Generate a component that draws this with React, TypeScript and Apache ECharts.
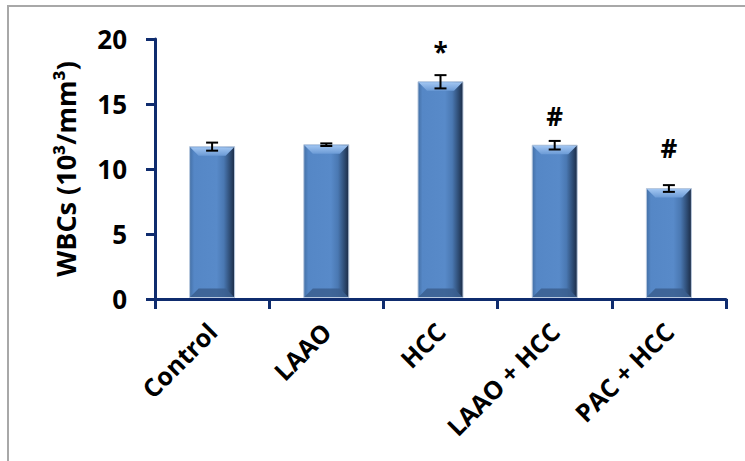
import React, { useEffect, useRef } from "react";
import * as echarts from "echarts";

const categories = ["Control", "LAAO", "HCC", "LAAO + HCC", "PAC + HCC"];
const means = [11.72, 11.87, 16.71, 11.83, 8.5];
const errors = [0.31, 0.1, 0.51, 0.33, 0.26];
const marks = ["", "", "*", "#", "#"];
const markY = [null, null, 19.0, 14.1, 11.64];
const yMin = 0;
const yMax = 20;
const yInterval = 5;

const AXIS_COLOR = "#0f2c6e";
const FONT = "'Open Sans', 'Noto Sans', sans-serif";

export default function App() {
  const ref = useRef<HTMLDivElement>(null);

  useEffect(() => {
    if (!ref.current) return;
    const chart = echarts.init(ref.current, null, { renderer: "svg" });

    const barData = means.map((v, i) => [i, v]);
    const errData = means.map((v, i) => [i, v - errors[i], v + errors[i]]);
    const markData = markY.map((v, i) => [i, v == null ? 0 : v]);

    const option: any = {
      animation: false,
      backgroundColor: "#ffffff",
      graphic: [
        {
          type: "rect",
          silent: true,
          z: -10,
          shape: { x: 8, y: 6, width: 800, height: 500 },
          style: { fill: "none", stroke: "#a8a8a8", lineWidth: 2 },
        },
      ],
      grid: { left: 155, right: 19, top: 39, bottom: 162, containLabel: false },
      xAxis: {
        type: "category",
        data: categories,
        axisLine: { show: true, lineStyle: { color: AXIS_COLOR, width: 3 } },
        axisTick: { show: true, length: 10, alignWithLabel: false, lineStyle: { color: AXIS_COLOR, width: 3 } },
        axisLabel: {
          interval: 0,
          rotate: 45,
          margin: 28,
          color: "#000",
          fontFamily: FONT,
          fontWeight: "bold",
          fontSize: 25,
        },
        splitLine: { show: false },
      },
      yAxis: {
        type: "value",
        min: yMin,
        max: yMax,
        interval: yInterval,
        name: "WBCs (10³/mm³)",
        nameLocation: "middle",
        nameGap: 76,
        nameRotate: 90,
        nameTextStyle: {
          color: "#000",
          fontFamily: FONT,
          fontWeight: "bold",
          fontSize: 27,
        },
        axisLine: { show: true, lineStyle: { color: AXIS_COLOR, width: 3 } },
        axisTick: { show: true, length: 9, lineStyle: { color: AXIS_COLOR, width: 3 } },
        axisLabel: {
          margin: 28,
          color: "#000",
          fontFamily: FONT,
          fontWeight: "bold",
          fontSize: 26,
        },
        splitLine: { show: false },
      },
      series: [
        {
          type: "custom",
          name: "bars",
          data: barData,
          encode: { x: 0, y: 1 },
          z: 2,
          renderItem: (params: any, api: any) => {
            const i = api.value(0);
            const v = api.value(1);
            const top = api.coord([i, v]);
            const base = api.coord([i, 0]);
            const w = api.size([1, 0])[0] * 0.394;
            const x0 = top[0] - w / 2;
            const x1 = top[0] + w / 2;
            const y0 = top[1];
            const y1 = base[1] - 1.5;
            const b = 9;
            return {
              type: "group",
              children: [
                {
                  type: "rect",
                  shape: { x: x0, y: y0, width: w, height: y1 - y0 },
                  style: {
                    fill: new echarts.graphic.LinearGradient(0, 0, 1, 0, [
                      { offset: 0, color: "#4470a6" },
                      { offset: 0.1, color: "#5587c6" },
                      { offset: 0.6, color: "#588ac9" },
                      { offset: 0.76, color: "#4a78b2" },
                      { offset: 0.9, color: "#2e4c74" },
                      { offset: 1, color: "#1b2b45" },
                    ]),
                    stroke: "#b9c9de",
                    lineWidth: 1,
                  },
                },
                {
                  type: "polygon",
                  shape: { points: [[x0 + 0.5, y0 + 0.5], [x1 - 0.5, y0 + 0.5], [x1 - b, y0 + b], [x0 + b, y0 + b]] },
                  style: {
                    fill: new echarts.graphic.LinearGradient(0, 0, 0, 1, [
                      { offset: 0, color: "#a2c6f2" },
                      { offset: 1, color: "#6c9bd6" },
                    ]),
                  },
                },
                {
                  type: "polygon",
                  shape: { points: [[x0 + 0.5, y1 - 0.5], [x0 + b, y1 - b], [x1 - b, y1 - b], [x1 - 0.5, y1 - 0.5]] },
                  style: { fill: "#3b5f8f", opacity: 0.85 },
                },
              ],
            };
          },
        },
        {
          type: "custom",
          name: "errors",
          data: errData,
          encode: { x: 0, y: [1, 2] },
          z: 3,
          renderItem: (params: any, api: any) => {
            const i = api.value(0);
            const lo = api.coord([i, api.value(1)]);
            const hi = api.coord([i, api.value(2)]);
            const cap = 6;
            const style = { stroke: "#000", lineWidth: 2 };
            return {
              type: "group",
              children: [
                { type: "line", shape: { x1: lo[0], y1: lo[1], x2: hi[0], y2: hi[1] }, style },
                { type: "line", shape: { x1: hi[0] - cap, y1: hi[1], x2: hi[0] + cap, y2: hi[1] }, style },
                { type: "line", shape: { x1: lo[0] - cap, y1: lo[1], x2: lo[0] + cap, y2: lo[1] }, style },
              ],
            };
          },
        },
        {
          type: "custom",
          name: "marks",
          data: markData,
          encode: { x: 0, y: 1 },
          z: 4,
          renderItem: (params: any, api: any) => {
            const idx = params.dataIndex;
            const txt = marks[idx];
            if (!txt) return null;
            const p = api.coord([api.value(0), api.value(1)]);
            return {
              type: "text",
              x: p[0],
              y: p[1],
              style: {
                text: txt,
                fill: "#000",
                font: `bold 26px ${FONT}`,
                align: "center",
                verticalAlign: "middle",
              },
            };
          },
        },
      ],
    };

    chart.setOption(option);
    return () => chart.dispose();
  }, []);

  return (
    <div
      ref={ref}
      style={{ position: "fixed", left: 0, top: 0, width: 745, height: 461, background: "#fff" }}
    />
  );
}
